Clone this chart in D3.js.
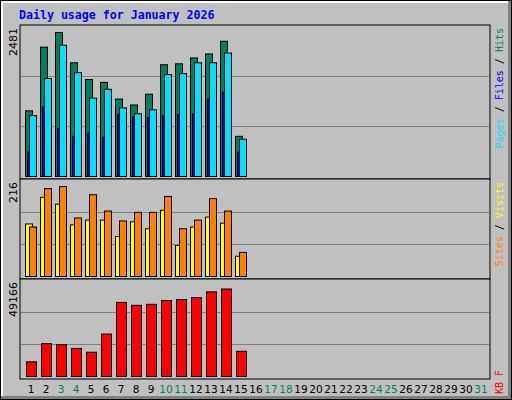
<!DOCTYPE html>
<html><head><meta charset="utf-8">
<script src="https://cdn.jsdelivr.net/npm/d3@7"></script>
<style>body{margin:0;background:#fff}svg{display:block}</style>
</head><body>
<svg id="c" width="512" height="400"></svg>
<script>
const days = d3.range(1, 32);
const weekendDays = [3,4,10,11,17,18,24,25,31];
const hits  = [1108,2183,2431,1919,1637,1588,1307,1207,1389,1886,1902,2001,2068,2283,678];
const files = [1028,1654,2216,1753,1323,1472,1158,1059,1125,1720,1737,1919,1919,2084,629];
const pages = [413,1174,811,678,728,662,1042,1009,992,1025,1042,1058,1307,1422,413];
const sites = [122,184,168,120,131,131,93,127,111,154,72,115,138,124,47];
const visits= [115,204,209,136,190,152,129,149,149,186,111,131,181,152,56];
const kbytes= [7836,17567,17055,15006,12958,22689,39589,38053,38565,40614,41126,42150,45223,46759,13470];
const maxHits = 2481, maxVisits = 216, maxKB = 49166;

const svg = d3.select("#c");
svg.append("rect").attr("x",0).attr("y",0).attr("width",512).attr("height",400).attr("fill","#000");
svg.append("rect").attr("x",1).attr("y",1).attr("width",510).attr("height",398).attr("fill","#808080");
svg.append("rect").attr("x",1).attr("y",1).attr("width",507).attr("height",395).attr("fill","#fff");
svg.append("rect").attr("x",3).attr("y",3).attr("width",505).attr("height",393).attr("fill","#c0c0c0");

svg.append("text").attr("x",19).attr("y",19).attr("fill","#0000ff")
  .attr("font-family","DejaVu Sans Mono").attr("font-weight","bold").attr("font-size","11.6px")
  .text("Daily usage for January 2026");

const x = d3.scaleBand().domain(days).range([25,490]).paddingInner(0);
const L = 20, R = 490;

function panel(top, bottom, base, ymax, maxLabel) {
  const y = d3.scaleLinear().domain([0, ymax]).range([base, top+1]);
  const g = svg.append("g");
  g.append("rect").attr("x",L).attr("y",top).attr("width",R-L).attr("height",bottom-top)
    .attr("fill","#c0c0c0").attr("stroke","#000");
  [1/3, 2/3].forEach(f => {
    g.append("line").attr("x1",L+1).attr("x2",R-1)
      .attr("y1",Math.round(y(ymax*f))+0.5).attr("y2",Math.round(y(ymax*f))+0.5)
      .attr("stroke","#808080");
  });
  g.append("text").attr("transform",`translate(17,${top+3}) rotate(-90)`)
    .attr("text-anchor","end").attr("font-family","DejaVu Sans").attr("font-size","11px")
    .attr("fill","#000").text(maxLabel);
  return {g, y};
}
function bars(p, data, dx, w, color) {
  p.g.selectAll(null).data(data).join("rect")
    .attr("x",(d,i)=>x(i+1)+dx+0.5).attr("width",w)
    .attr("y",d=>p.y(d)+0.5).attr("height",d=>p.y(0)-p.y(d))
    .attr("fill",color).attr("stroke","#000");
}

const p1 = panel(25, 179, 176, maxHits*150/147, maxHits);
bars(p1, hits, 0, 7, "#008060");
bars(p1, pages, 2, 2, "#0000ff");
bars(p1, files, 4, 7, "#00e0ff");

const p2 = panel(179, 279, 276, maxVisits*95/92, maxVisits);
bars(p2, sites, 0, 7, "#ffff00");
bars(p2, visits, 4, 7, "#ff8000");

const p3 = panel(279, 379, 376, maxKB*96/92, maxKB);
bars(p3, kbytes, 1, 10, "#ff0000");

svg.selectAll(".dl").data(days).join("text")
  .attr("x",d=>x(d)+6).attr("y",393).attr("text-anchor","middle")
  .attr("font-family","DejaVu Sans").attr("font-size","10.5px")
  .attr("fill",d=>weekendDays.includes(d)?"#008060":"#000").text(d=>d);

function legend(yEnd, parts) {
  const t = svg.append("text").attr("transform",`translate(503,${yEnd}) rotate(-90)`)
    .attr("text-anchor","end").attr("font-family","DejaVu Sans Mono").attr("font-size","10px");
  parts.forEach(([s,c]) => t.append("tspan").attr("fill",c).text(s));
}
legend(28, [["Pages","#00e0ff"],[" / ","#000"],["Files","#0000ff"],[" / ","#000"],["Hits","#008060"]]);
legend(182, [["Sites","#ff8000"],[" / ","#000"],["Visits","#ffff00"]]);
legend(370, [["KB F","#ff0000"]]);
</script>
</body></html>
